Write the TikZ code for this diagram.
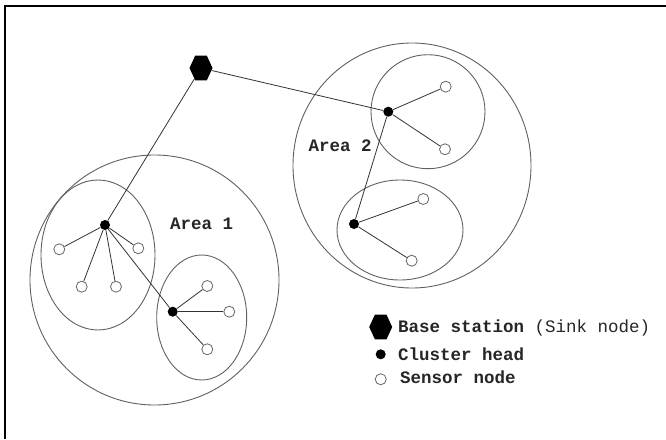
\documentclass[tikz,border=0pt]{standalone}
\usepackage{fontspec}
\setmonofont{Liberation Mono}
\usetikzlibrary{shapes.geometric}
\begin{document}
\begin{tikzpicture}[x=1pt,y=-1pt,
  area/.style={draw=black!62, line width=0.9pt},
  link/.style={draw=black!80, line width=0.8pt},
  sensor/.style={circle, draw=black!60, fill=white, line width=0.8pt, minimum size=11pt, inner sep=0pt},
  head/.style={circle, fill=black, minimum size=10pt, inner sep=0pt},
  hexa/.style={regular polygon, regular polygon sides=6, fill=black, minimum size=23pt, inner sep=0pt, transform shape, yscale=1.25},
  lbl/.style={font=\ttfamily\bfseries\fontsize{17.5}{20}\selectfont, text=black!85, inner sep=0pt, anchor=base west},
  frame/.style={line width=2pt, draw=black}]
\useasboundingbox (0,0) rectangle (666,439);
\fill[white] (0,0) rectangle (666,439);
\draw[frame] (5,439) -- (5,6) -- (666,6);

% areas and clusters
\draw[area] (154.5,280) ellipse [x radius=124.5pt, y radius=125pt];
\draw[area] (98,255) ellipse [x radius=57pt, y radius=75pt];
\draw[area] (201.7,317.5) ellipse [x radius=45pt, y radius=62.5pt];
\draw[area] (412,165.5) ellipse [x radius=119pt, y radius=122.5pt];
\draw[area] (428,111.7) ellipse [x radius=57pt, y radius=57pt];
\draw[area] (400,230) ellipse [x radius=63pt, y radius=50pt];

% base station
\begin{scope}[shift={(201,68)}]
  \node[hexa] (bs) at (0,0) {};
\end{scope}

% cluster heads
\node[head] (h1) at (105,225) {};
\node[head] (h2) at (172.7,311.7) {};
\node[head] (h3) at (388.3,111.7) {};
\node[head] (h4) at (354,224) {};

% sensors
\node[sensor] (a1) at (59.3,249.3) {};
\node[sensor] (a2) at (138.3,248.3) {};
\node[sensor] (a3) at (81.7,286.7) {};
\node[sensor] (a4) at (116,286.7) {};
\node[sensor] (b1) at (207.3,286) {};
\node[sensor] (b2) at (229.3,311.7) {};
\node[sensor] (b3) at (207.3,349.3) {};
\node[sensor] (c1) at (445.7,86.7) {};
\node[sensor] (c2) at (445,149.3) {};
\node[sensor] (d1) at (423.3,199) {};
\node[sensor] (d2) at (411.7,260.7) {};

% links
\draw[link] (bs) -- (h1);
\draw[link] (bs) -- (h3);
\draw[link] (h1) -- (h2);
\draw[link] (h3) -- (h4);
\foreach \s in {a1,a2,a3,a4} \draw[link] (h1) -- (\s);
\foreach \s in {b1,b2,b3} \draw[link] (h2) -- (\s);
\foreach \s in {c1,c2} \draw[link] (h3) -- (\s);
\foreach \s in {d1,d2} \draw[link] (h4) -- (\s);

% area labels
\node[lbl] (ar1) at (170,229.3) {Area 1};
\node[lbl] (ar2) at (308.3,151) {Area 2};

% legend
\begin{scope}[shift={(380.7,327)}]
  \node[hexa] (lbs) at (0,0) {};
\end{scope}
\node[head] (lch) at (380.7,354.3) {};
\node[sensor] (lsn) at (380.7,379.3) {};
\node[lbl] (t1) at (398,332.3) {Base station \textmd{(Sink node)}};
\node[lbl] (t2) at (398,360) {Cluster head};
\node[lbl] (t3) at (400,383.3) {Sensor node};
\end{tikzpicture}
\end{document}
